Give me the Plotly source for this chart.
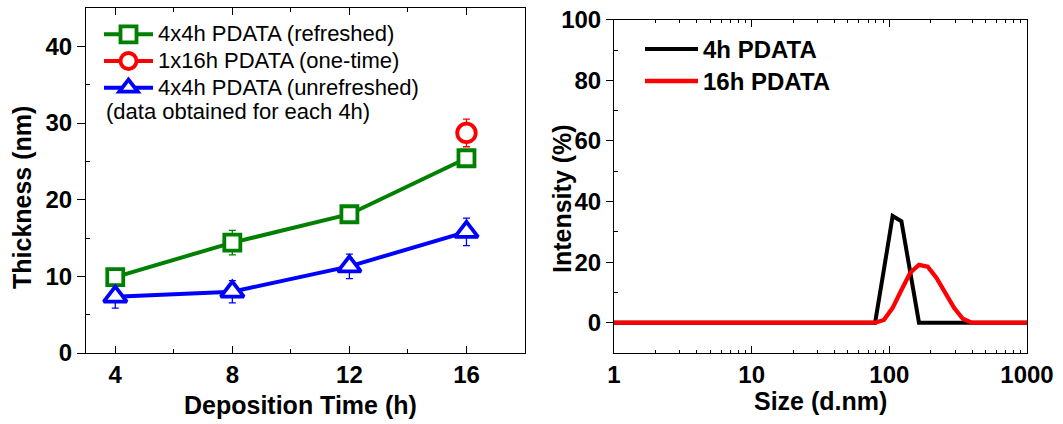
import plotly.graph_objects as go

W, H = 1063, 424
FONT = "Arial, Liberation Sans, sans-serif"

# ---------------- data: left panel ----------------
time_h = [4, 8, 12, 16]
refreshed = [9.9, 14.4, 18.1, 25.4]
refreshed_err = [0.55, 1.6, 0.3, 0.4]
onetime_t = [16]
onetime = [28.7]
onetime_err = [1.8]
unrefreshed = [7.35, 8.0, 11.3, 15.8]
unrefreshed_err = [1.5, 1.45, 1.6, 1.8]
left_xticks = [4, 8, 12, 16]
left_yticks = [0, 10, 20, 30, 40]

# ---------------- data: right panel ----------------
size_nm = [0.4, 68.06, 78.82, 91.28, 105.7, 122.4, 141.8, 164.2, 190.1,
           220.2, 255.0, 295.3, 342.0, 396.1, 458.7, 10000]
int_4h = [0, 0, 0, 17.5, 35.2, 33.5, 16.7, 0, 0, 0, 0, 0, 0, 0, 0, 0]
int_16h = [0, 0, 0, 0.9, 4.9, 10.8, 16.5, 19.1, 18.5, 14.8, 9.9, 4.9, 1.3, 0, 0, 0]
right_xticks = [1, 10, 100, 1000]
right_yticks = [0, 20, 40, 60, 80, 100]


def px_x(p):
    return p / W


def px_y(p):
    return 1 - p / H


def big(txt, size):
    return "<span style='font-size:%spx'>%s</span>" % (size, txt)


GREEN, RED, BLUE = "#008000", "#ff0000", "#0000ff"
LEG1 = 22     # visible size of left legend text
LEG2 = 24     # visible size of right legend text

series = [
    (time_h, refreshed, refreshed_err, GREEN, "square", 16, "4x4h PDATA (refreshed)"),
    (onetime_t, onetime, onetime_err, RED, "circle", 18.5, "1x16h PDATA (one-time)"),
    (time_h, unrefreshed, unrefreshed_err, BLUE, "triangle-up", 20, "4x4h PDATA (unrefreshed)"),
]

fig = go.Figure()

# error bars first so the white-filled markers sit on top of them
for xs, ys, es, col, sym, sz, nm in series:
    fig.add_trace(go.Scatter(
        x=xs, y=ys, mode="markers", showlegend=False, hoverinfo="skip",
        marker=dict(size=1, color="rgba(0,0,0,0)"),
        error_y=dict(type="data", array=es, color=col, thickness=1.3, width=3.5),
        xaxis="x", yaxis="y"))

for xs, ys, es, col, sym, sz, nm in series:
    fig.add_trace(go.Scatter(
        x=xs, y=ys, mode="lines+markers", name=big(nm, LEG1),
        line=dict(color=col, width=4),
        marker=dict(symbol=sym, size=sz, color="white", line=dict(width=3.8, color=col)),
        xaxis="x", yaxis="y", legend="legend"))

fig.add_trace(go.Scatter(
    x=size_nm, y=int_4h, mode="lines", name=big("4h PDATA", LEG2),
    line=dict(color="black", width=4), xaxis="x2", yaxis="y2", legend="legend2"))
fig.add_trace(go.Scatter(
    x=size_nm, y=int_16h, mode="lines", name=big("16h PDATA", LEG2),
    line=dict(color=RED, width=4.3), xaxis="x2", yaxis="y2", legend="legend2"))

tickfont = dict(family=FONT, size=24, color="black", weight="bold")
common = dict(showgrid=False, zeroline=False, showline=True, linecolor="black",
              linewidth=1, tickcolor="black", tickwidth=1, automargin=False)

right_minor_x = [m * d for d in [1, 10, 100] for m in range(2, 10)]

fig.update_layout(
    width=W, height=H, autosize=False,
    margin=dict(l=0, r=0, t=0, b=0, pad=0, autoexpand=False),
    paper_bgcolor="white", plot_bgcolor="white",
    font=dict(family=FONT, color="black"),
    xaxis=dict(domain=[px_x(86), px_x(525)], range=[3, 18], anchor="y",
               tickmode="array", tickvals=left_xticks, ticks="inside", ticklen=7,
               mirror="allticks", tickfont=tickfont, ticklabelstandoff=0,
               minor=dict(tickvals=[6, 10, 14], ticks="inside", ticklen=4,
                          tickcolor="black", showgrid=False),
               **common),
    yaxis=dict(domain=[px_y(353), px_y(8)], range=[0, 45], anchor="x",
               tickmode="array", tickvals=left_yticks, ticks="outside", ticklen=8,
               mirror=True, tickfont=tickfont,
               minor=dict(tickvals=[5, 15, 25, 35], ticks="inside", ticklen=4,
                          tickcolor="black", showgrid=False),
               **common),
    yaxis3=dict(overlaying="y", side="right", anchor="x", range=[0, 45],
                tickmode="array", tickvals=left_yticks, ticks="inside", ticklen=5,
                showticklabels=False, showgrid=False, zeroline=False, showline=False,
                tickcolor="black", tickwidth=1, automargin=False,
                minor=dict(tickvals=[5, 15, 25, 35], ticks="inside", ticklen=5,
                           tickcolor="black", showgrid=False)),
    xaxis2=dict(domain=[px_x(614), px_x(1027)], type="log", range=[0, 3], anchor="y2",
                tickmode="array", tickvals=right_xticks, ticktext=["1", "10", "100", "1000"],
                ticks="inside", ticklen=7, mirror="allticks", tickfont=tickfont,
                ticklabelstandoff=0,
                minor=dict(tickvals=right_minor_x, ticks="inside", ticklen=3,
                           tickcolor="black", showgrid=False),
                **common),
    yaxis2=dict(domain=[px_y(353), px_y(19.7)], range=[-10, 100], anchor="x2",
                tickmode="array", tickvals=right_yticks, ticks="outside", ticklen=7,
                mirror=True, tickfont=tickfont,
                minor=dict(tickvals=[10, 30, 50, 70, 90], ticks="inside", ticklen=4,
                           tickcolor="black", showgrid=False),
                **common),
    yaxis4=dict(overlaying="y2", side="right", anchor="x2", range=[-10, 100],
                tickmode="array", tickvals=right_yticks, ticks="inside", ticklen=5,
                showticklabels=False, showgrid=False, zeroline=False, showline=False,
                tickcolor="black", tickwidth=1, automargin=False,
                minor=dict(tickvals=[10, 30, 50, 70, 90], ticks="inside", ticklen=5,
                           tickcolor="black", showgrid=False)),
    legend=dict(x=px_x(99), y=px_y(16), xanchor="left", yanchor="top",
                bgcolor="rgba(0,0,0,0)", borderwidth=0, itemwidth=49,
                font=dict(family=FONT, size=18.2, color="black"),
                tracegroupgap=0),
    legend2=dict(x=px_x(640), y=px_y(28), xanchor="left", yanchor="top",
                 bgcolor="rgba(0,0,0,0)", borderwidth=0, itemwidth=53,
                 font=dict(family=FONT, size=22.3, color="black", weight="bold"),
                 tracegroupgap=0),
    showlegend=True,
)

title_font = dict(family=FONT, size=25, color="black", weight="bold")
annos = [
    dict(text="Thickness (nm)", x=px_x(22), y=px_y(198), textangle=-90),
    dict(text="Deposition Time (h)", x=px_x(300), y=px_y(405), textangle=0),
    dict(text="Intensity (%)", x=px_x(562), y=px_y(199), textangle=-90),
    dict(text="Size (d.nm)", x=px_x(820), y=px_y(401), textangle=0),
]
for a in annos:
    fig.add_annotation(xref="paper", yref="paper", showarrow=False,
                       xanchor="center", yanchor="middle", font=title_font, **a)

fig.add_annotation(xref="paper", yref="paper", showarrow=False,
                   x=px_x(104), y=px_y(111), xanchor="left", yanchor="middle",
                   text="(data obtained for each 4h)",
                   font=dict(family=FONT, size=LEG1, color="black"))

fig.write_html("out.html",
               post_script="document.body.style.margin='0';document.body.style.padding='0';document.body.style.overflow='hidden';")
